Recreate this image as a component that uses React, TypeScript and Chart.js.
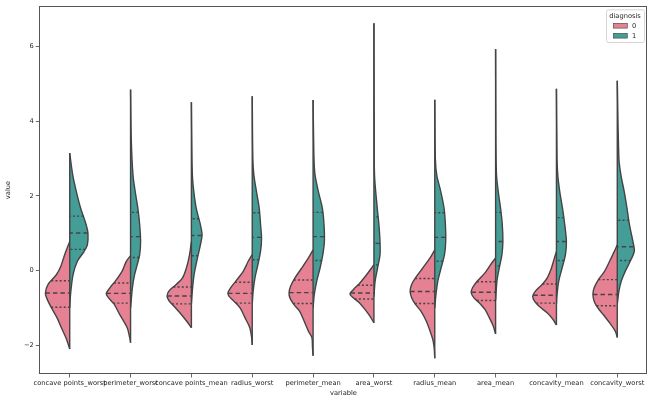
import React, { useEffect, useRef } from "react";
import { Chart, registerables } from "chart.js";

Chart.register(...registerables);

// ---- data ----
const categories = [
  "concave points_worst",
  "perimeter_worst",
  "concave points_mean",
  "radius_worst",
  "perimeter_mean",
  "area_worst",
  "radius_mean",
  "area_mean",
  "concavity_mean",
  "concavity_worst",
];

const yTicks = [-2, 0, 2, 4, 6];
const legendTitle = "diagnosis";
const groupLabels = ["0", "1"];

// diagnosis 0 (left half): value levels and half-widths of the density outline
const benignLevels: number[][] = [
  [-2.1, -1.85, -1.53, -1.26, -1.0, -0.73, -0.6, -0.37, -0.11, 0.11, 0.43, 0.78],
  [-1.93, -1.79, -1.53, -1.17, -0.9, -0.73, -0.62, -0.46, -0.28, -0.02, 0.25, 0.4],
  [-1.53, -1.35, -1.13, -0.95, -0.8, -0.69, -0.55, -0.37, -0.2, 0.07, 0.43, 0.78],
  [-1.99, -1.79, -1.53, -1.26, -1.0, -0.82, -0.69, -0.6, -0.46, -0.28, -0.02, 0.25, 0.43],
  [-2.28, -2.06, -1.79, -1.62, -1.35, -1.08, -0.9, -0.73, -0.6, -0.42, -0.2, 0.07, 0.34, 0.56],
  [-1.4, -1.22, -1.04, -0.86, -0.73, -0.62, -0.51, -0.33, -0.11, 0.07, 0.16],
  [-2.35, -2.06, -1.84, -1.62, -1.35, -1.08, -0.9, -0.73, -0.55, -0.37, -0.2, 0.07, 0.34, 0.56],
  [-1.7, -1.48, -1.26, -1.04, -0.86, -0.73, -0.6, -0.46, -0.28, -0.06, 0.16, 0.34],
  [-1.46, -1.31, -1.13, -0.95, -0.82, -0.69, -0.55, -0.37, -0.2, 0.07, 0.34, 0.51],
  [-1.79, -1.62, -1.4, -1.17, -1.0, -0.82, -0.64, -0.46, -0.24, -0.02, 0.25, 0.51, 0.69],
];
const benignWidths: number[][] = [
  [0, 0.05, 0.137, 0.21, 0.3, 0.38, 0.4, 0.356, 0.22, 0.148, 0.082, 0],
  [0, 0.015, 0.055, 0.18, 0.27, 0.36, 0.4, 0.34, 0.25, 0.14, 0.07, 0],
  [0, 0.08, 0.19, 0.29, 0.37, 0.4, 0.37, 0.25, 0.148, 0.082, 0.03, 0],
  [0, 0.01, 0.04, 0.12, 0.2, 0.3, 0.38, 0.4, 0.356, 0.27, 0.148, 0.066, 0],
  [0, 0.01, 0.02, 0.077, 0.148, 0.225, 0.32, 0.38, 0.395, 0.37, 0.3, 0.186, 0.077, 0],
  [0, 0.066, 0.148, 0.24, 0.34, 0.395, 0.34, 0.23, 0.12, 0.038, 0],
  [0, 0.01, 0.033, 0.077, 0.14, 0.23, 0.32, 0.38, 0.405, 0.38, 0.32, 0.197, 0.077, 0],
  [0, 0.04, 0.104, 0.175, 0.27, 0.356, 0.4, 0.38, 0.3, 0.175, 0.082, 0],
  [0, 0.055, 0.153, 0.29, 0.36, 0.39, 0.345, 0.235, 0.153, 0.082, 0.033, 0],
  [0, 0.033, 0.126, 0.235, 0.32, 0.38, 0.4, 0.38, 0.31, 0.21, 0.126, 0.05, 0],
];
// diagnosis 1 (right half)
const malignantLevels: number[][] = [
  [-1.0, -0.6, -0.11, 0.25, 0.51, 0.69, 1.0, 1.23, 1.67, 2.11, 2.56, 3.15],
  [-1.0, -0.82, -0.46, -0.11, 0.16, 0.43, 0.78, 1.23, 1.67, 2.11, 2.56, 3.5, 4.85],
  [-0.9, -0.55, -0.11, 0.34, 0.69, 0.96, 1.23, 1.67, 2.11, 2.56, 3.5, 4.51],
  [-0.9, -0.55, -0.2, 0.16, 0.52, 0.87, 1.23, 1.67, 2.11, 2.56, 3.0, 4.67],
  [-1.0, -0.64, -0.28, 0.07, 0.43, 0.78, 1.23, 1.67, 2.11, 2.56, 3.0, 4.57],
  [-0.7, -0.28, 0.07, 0.43, 0.78, 1.23, 1.67, 2.56, 4.0, 6.63],
  [-1.0, -0.64, -0.28, 0.07, 0.43, 0.78, 1.23, 1.67, 2.11, 2.56, 3.0, 4.58],
  [-0.8, -0.28, 0.07, 0.43, 0.78, 1.23, 1.67, 2.11, 2.56, 3.5, 5.94],
  [-0.9, -0.64, -0.28, 0.07, 0.43, 0.78, 1.23, 1.67, 2.11, 2.56, 3.0, 4.87],
  [-0.9, -0.55, -0.28, -0.02, 0.25, 0.52, 0.78, 1.23, 1.67, 2.11, 2.56, 3.0, 5.09],
];
const malignantWidths: number[][] = [
  [0, 0.016, 0.055, 0.126, 0.235, 0.29, 0.3, 0.27, 0.18, 0.11, 0.05, 0],
  [0, 0.01, 0.03, 0.066, 0.11, 0.15, 0.165, 0.15, 0.12, 0.077, 0.04, 0.012, 0],
  [0, 0.015, 0.044, 0.1, 0.148, 0.175, 0.148, 0.08, 0.04, 0.016, 0.006, 0],
  [0, 0.015, 0.044, 0.093, 0.137, 0.153, 0.137, 0.115, 0.07, 0.027, 0.01, 0],
  [0, 0.02, 0.06, 0.115, 0.16, 0.186, 0.18, 0.153, 0.088, 0.033, 0.015, 0],
  [0, 0.02, 0.06, 0.1, 0.1, 0.082, 0.055, 0.01, 0.004, 0],
  [0, 0.02, 0.05, 0.104, 0.16, 0.18, 0.175, 0.153, 0.1, 0.033, 0.01, 0],
  [0, 0.022, 0.06, 0.104, 0.12, 0.11, 0.082, 0.044, 0.015, 0.005, 0],
  [0, 0.01, 0.038, 0.093, 0.148, 0.164, 0.137, 0.1, 0.055, 0.022, 0.01, 0],
  [0, 0.027, 0.066, 0.13, 0.213, 0.28, 0.257, 0.2, 0.16, 0.115, 0.06, 0.027, 0],
];

// quartiles [q1, median, q3]
const benignQuartiles: number[][] = [
  [-0.98, -0.6, -0.27],
  [-0.87, -0.61, -0.33],
  [-0.89, -0.68, -0.44],
  [-0.87, -0.61, -0.31],
  [-0.88, -0.59, -0.25],
  [-0.76, -0.6, -0.39],
  [-0.88, -0.56, -0.21],
  [-0.8, -0.58, -0.3],
  [-0.87, -0.66, -0.36],
  [-0.94, -0.64, -0.24],
];
const malignantQuartiles: number[][] = [
  [0.57, 1.01, 1.46],
  [0.35, 0.91, 1.56],
  [0.4, 0.94, 1.39],
  [0.29, 0.89, 1.55],
  [0.27, 0.91, 1.56],
  [0.15, 0.73, 1.44],
  [0.25, 0.89, 1.55],
  [0.13, 0.78, 1.56],
  [0.27, 0.78, 1.42],
  [0.27, 0.64, 1.35],
];

// ---- styles ----
const PINK = "#e68193";
const TEAL = "#449e97";
const EDGE = "#444444";
const TEXT = "#262626";
const FONT = { family: "'DejaVu Sans', sans-serif", size: 6.7 };

function widthAt(levels: number[], widths: number[], v: number): number {
  for (let k = 0; k < levels.length - 1; k++) {
    if (v >= levels[k] && v <= levels[k + 1]) {
      const t = (v - levels[k]) / (levels[k + 1] - levels[k]);
      return widths[k] + t * (widths[k + 1] - widths[k]);
    }
  }
  return 0;
}

const framePlugin = {
  id: "frameAndLegend",
  afterDraw(chart: any) {
    const { ctx, chartArea } = chart;
    ctx.save();
    ctx.strokeStyle = "#555";
    ctx.lineWidth = 1;
    ctx.strokeRect(
      Math.round(chartArea.left) + 0.5,
      Math.round(chartArea.top) + 0.5,
      Math.round(chartArea.right - chartArea.left) - 1,
      Math.round(chartArea.bottom - chartArea.top) - 1
    );
    // legend box, upper right inside the axes
    const bx = chartArea.right - 41.7;
    const by = chartArea.top + 3.3;
    const bw = 38;
    const bh = 32.7;
    ctx.beginPath();
    ctx.roundRect(bx + 0.5, by + 0.5, bw, bh, 2);
    ctx.fillStyle = "rgba(255,255,255,0.8)";
    ctx.fill();
    ctx.strokeStyle = "#d6d6d6";
    ctx.lineWidth = 1;
    ctx.stroke();
    ctx.font = `${FONT.size}px ${FONT.family}`;
    ctx.fillStyle = TEXT;
    ctx.textBaseline = "middle";
    ctx.textAlign = "center";
    ctx.fillText(legendTitle, bx + bw / 2, by + 6.5);
    const colors = [PINK, TEAL];
    groupLabels.forEach((lab, k) => {
      const cy = by + 16.4 + k * 10;
      ctx.fillStyle = colors[k];
      ctx.fillRect(bx + 7.3, cy - 2.4, 14, 4.8);
      ctx.strokeStyle = EDGE;
      ctx.lineWidth = 0.6;
      ctx.strokeRect(bx + 7.3, cy - 2.4, 14, 4.8);
      ctx.fillStyle = TEXT;
      ctx.textAlign = "left";
      ctx.fillText(lab, bx + 26, cy + 0.3);
    });
    ctx.restore();
  },
};

export default function App() {
  const ref = useRef<HTMLCanvasElement>(null);

  useEffect(() => {
    document.body.style.margin = "0";
    const canvas = ref.current;
    if (!canvas) return;

    const datasets: any[] = [];
    categories.forEach((_, i) => {
      const bl = benignLevels[i];
      const bw = benignWidths[i];
      const ml = malignantLevels[i];
      const mw = malignantWidths[i];
      datasets.push({
        label: groupLabels[0],
        data: bl.map((v, k) => ({ x: i - bw[k], y: v })),
        showLine: true,
        fill: "shape",
        backgroundColor: PINK,
        borderColor: EDGE,
        borderWidth: 1.4,
        pointRadius: 0,
        tension: 0.3,
        order: 3,
      });
      datasets.push({
        label: groupLabels[1],
        data: ml.map((v, k) => ({ x: i + mw[k], y: v })),
        showLine: true,
        fill: "shape",
        backgroundColor: TEAL,
        borderColor: EDGE,
        borderWidth: 1.4,
        pointRadius: 0,
        tension: 0.3,
        order: 3,
      });
      datasets.push({
        label: "center",
        data: [
          { x: i, y: Math.min(bl[0], ml[0]) },
          { x: i, y: Math.max(bl[bl.length - 1], ml[ml.length - 1]) },
        ],
        showLine: true,
        fill: false,
        borderColor: EDGE,
        borderWidth: 1.4,
        pointRadius: 0,
        order: 2,
      });
      const addQuartiles = (qs: number[], lv: number[], wd: number[], sign: number) => {
        qs.forEach((q, k) => {
          datasets.push({
            label: "q",
            data: [
              { x: i + sign * widthAt(lv, wd, q), y: q },
              { x: i, y: q },
            ],
            showLine: true,
            fill: false,
            borderColor: EDGE,
            borderWidth: 1.4,
            borderDash: k === 1 ? [4.5, 3] : [2, 2.2],
            pointRadius: 0,
            order: 1,
          });
        });
      };
      addQuartiles(benignQuartiles[i], bl, bw, -1);
      addQuartiles(malignantQuartiles[i], ml, mw, 1);
    });

    const chart = new Chart(canvas, {
      type: "scatter",
      data: { datasets },
      plugins: [framePlugin],
      options: {
        animation: false,
        responsive: false,
        events: [],
        layout: { padding: { top: 4, right: 3.3, left: 0, bottom: 0 } },
        plugins: {
          legend: { display: false },
          tooltip: { enabled: false },
        },
        scales: {
          x: {
            type: "linear",
            min: -0.5,
            max: 9.5,
            afterBuildTicks: (s: any) => {
              s.ticks = categories.map((_, i) => ({ value: i }));
            },
            afterFit: (s: any) => {
              s.height = 25;
            },
            ticks: {
              autoSkip: false,
              maxRotation: 0,
              minRotation: 0,
              padding: 2,
              color: TEXT,
              font: FONT,
              callback: (v: any) => categories[Math.round(Number(v))],
            },
            grid: {
              drawOnChartArea: false,
              drawTicks: true,
              tickLength: 3.5,
              tickColor: "#444",
              tickWidth: 0.8,
            },
            border: { display: false },
            title: {
              display: true,
              text: "variable",
              color: TEXT,
              font: FONT,
              padding: { top: 0, bottom: 2 },
            },
          },
          y: {
            type: "linear",
            min: -2.77,
            max: 7.09,
            afterBuildTicks: (s: any) => {
              s.ticks = yTicks.map((v) => ({ value: v }));
            },
            afterFit: (s: any) => {
              s.width = 39.3;
            },
            ticks: {
              padding: 2,
              color: TEXT,
              font: FONT,
              callback: (v: any) => (Number(v) < 0 ? "\u2212" + Math.abs(Number(v)) : String(v)),
            },
            grid: {
              drawOnChartArea: false,
              drawTicks: true,
              tickLength: 3.5,
              tickColor: "#444",
              tickWidth: 0.8,
            },
            border: { display: false },
            title: {
              display: true,
              text: "value",
              color: TEXT,
              font: FONT,
              padding: { top: 4, bottom: 0 },
            },
          },
        },
      },
    });

    return () => chart.destroy();
  }, []);

  return (
    <div style={{ position: "absolute", left: 0, top: 0, width: 651, height: 399 }}>
      <canvas ref={ref} width={651} height={399} style={{ width: 651, height: 399 }} />
    </div>
  );
}
